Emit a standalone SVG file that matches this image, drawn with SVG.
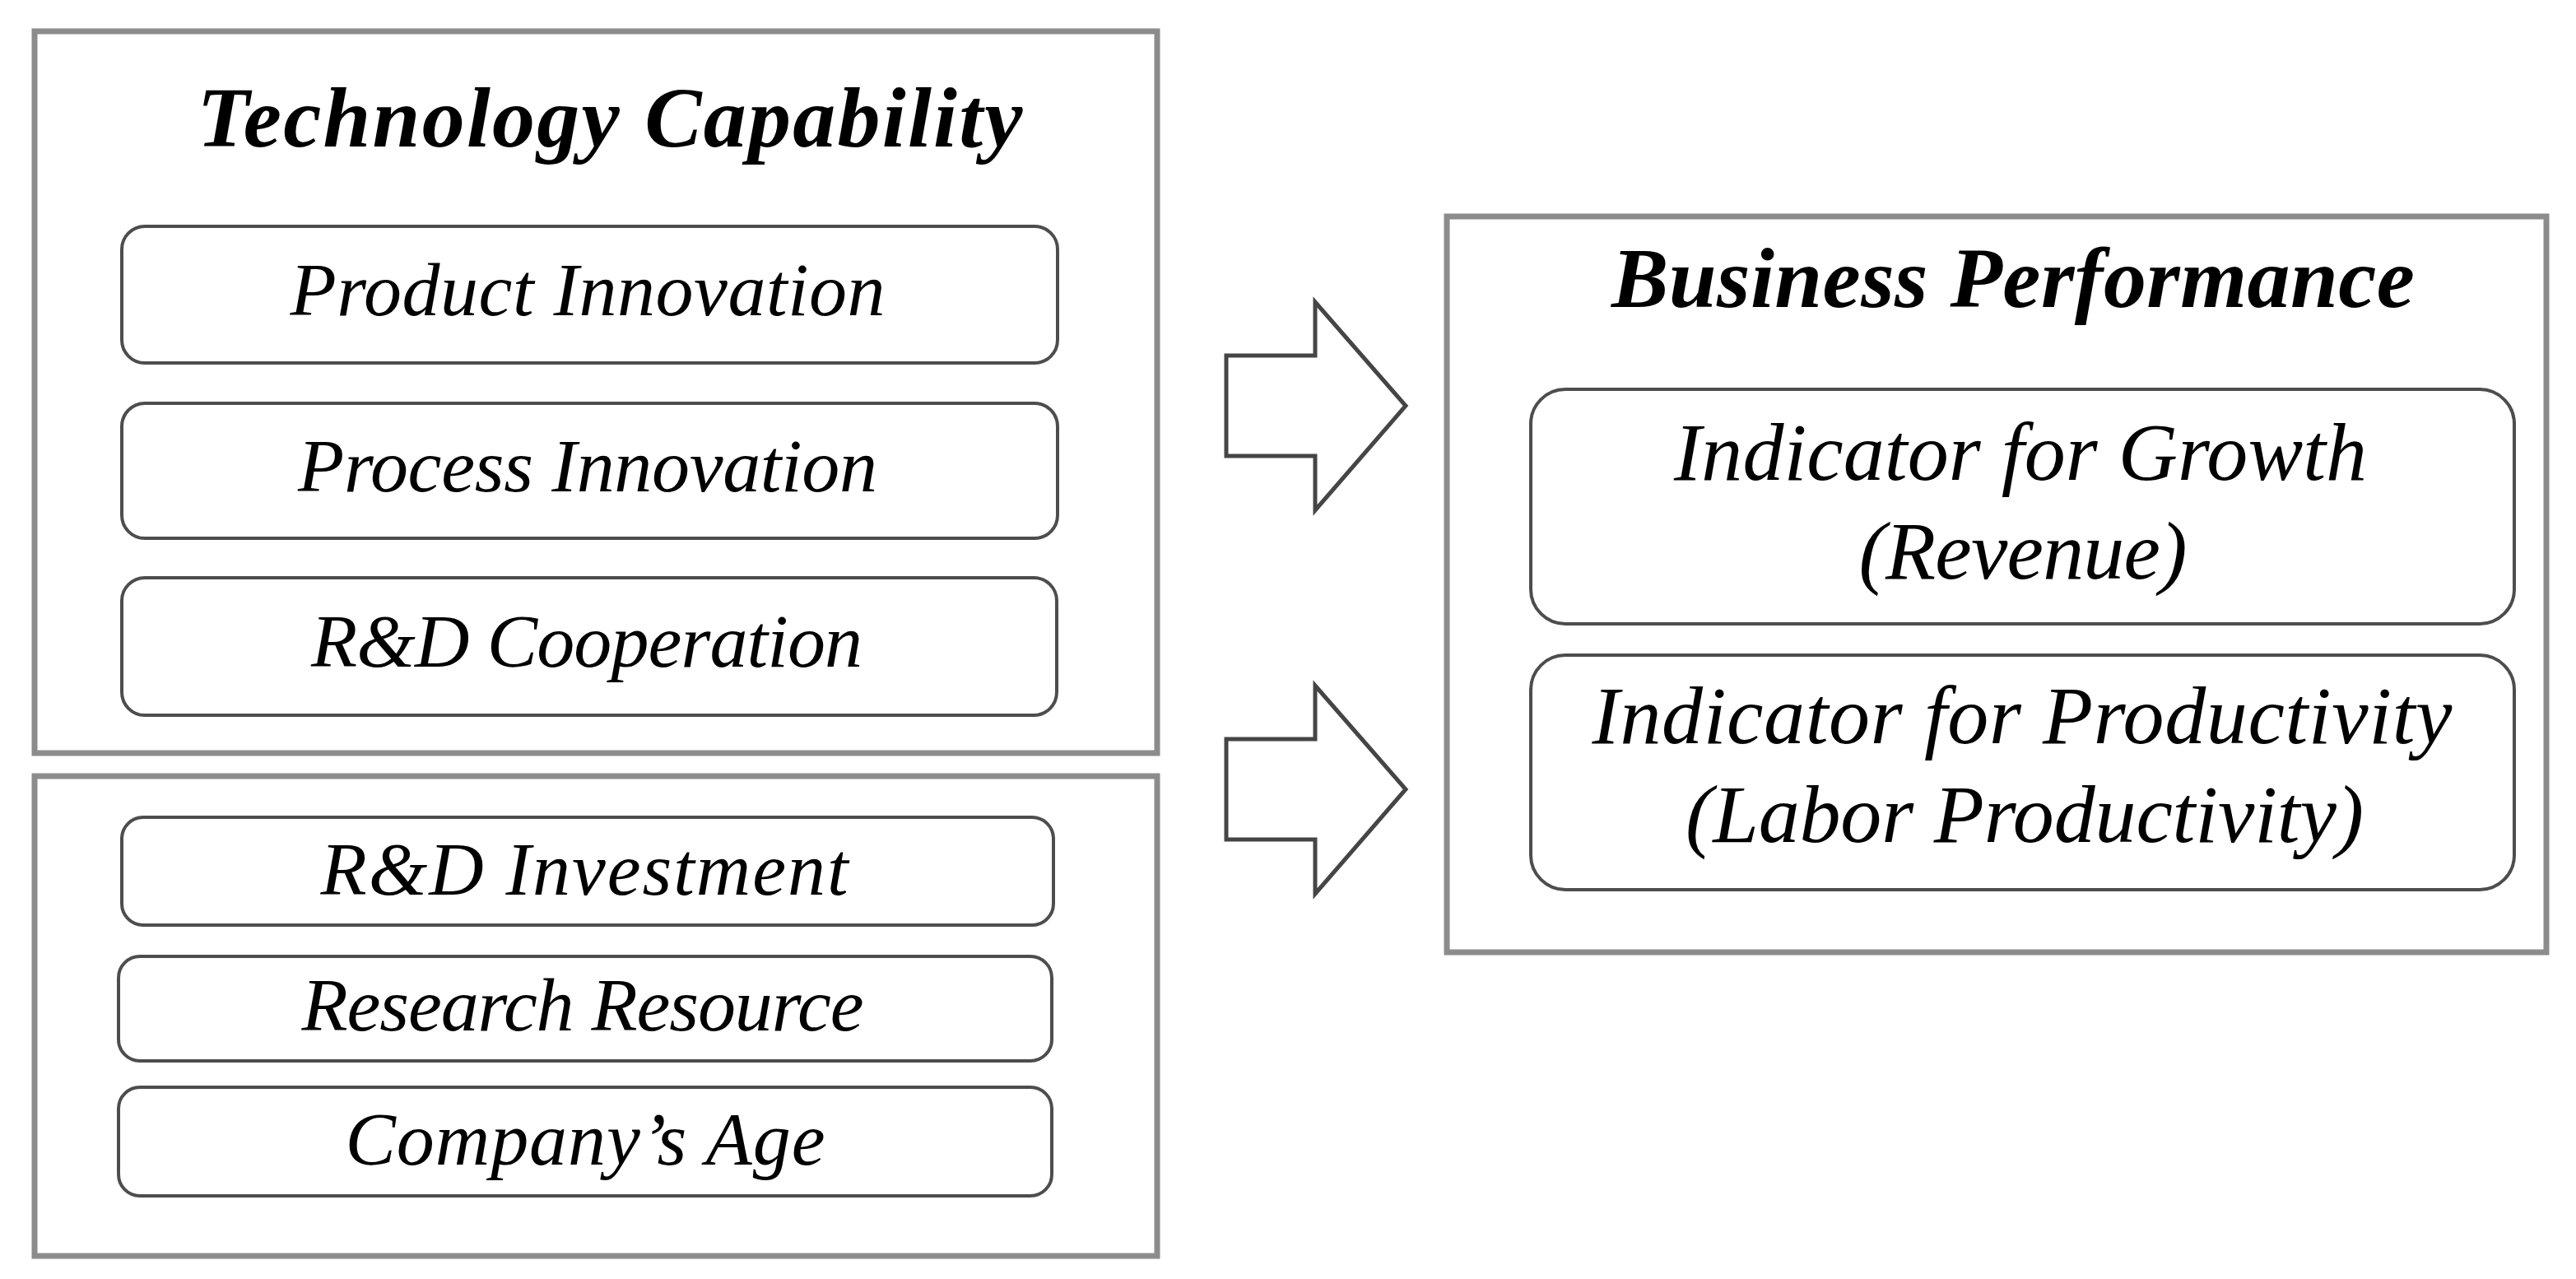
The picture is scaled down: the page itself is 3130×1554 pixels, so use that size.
<svg xmlns="http://www.w3.org/2000/svg" width="3130" height="1554" viewBox="0 0 3130 1554">
<style>
.outer{fill:#ffffff;stroke:#8c8c8c;stroke-width:7}
.item{fill:#ffffff;stroke:#4d4d4d;stroke-width:4}
.arrow{fill:#ffffff;stroke:#454545;stroke-width:5;stroke-linejoin:miter}
.t{font-family:"Liberation Serif","Times New Roman",serif;font-style:italic;fill:#000000;text-anchor:middle}
.l{font-size:92px}
.r{font-size:100px}
.h{font-size:104px;font-weight:bold}
</style>
<rect width="3130" height="1554" fill="#ffffff"/>
<g id="technology-capability">
<rect class="outer" x="42" y="38" width="1364" height="877"/>
<text class="t h" x="741" y="178" textLength="1003">Technology Capability</text>
</g>
<g id="product-innovation">
<rect class="item" x="148" y="275" width="1137" height="166" rx="28"/>
<text class="t l" x="714" y="383" textLength="723">Product Innovation</text>
</g>
<g id="process-innovation">
<rect class="item" x="148" y="490" width="1137" height="164" rx="28"/>
<text class="t l" x="714" y="597" textLength="704">Process Innovation</text>
</g>
<g id="rd-cooperation">
<rect class="item" x="148" y="702" width="1136" height="167" rx="28"/>
<text class="t l" x="713" y="810" textLength="670">R&amp;D Cooperation</text>
</g>
<g id="controls">
<rect class="outer" x="42" y="943" width="1364" height="583"/>
</g>
<g id="rd-investment">
<rect class="item" x="148" y="993" width="1132" height="131" rx="26"/>
<text class="t l" x="710" y="1087" textLength="641">R&amp;D Investment</text>
</g>
<g id="research-resource">
<rect class="item" x="144" y="1162" width="1134" height="127" rx="26"/>
<text class="t l" x="708" y="1252" textLength="683">Research Resource</text>
</g>
<g id="company-age">
<rect class="item" x="144" y="1321" width="1134" height="132" rx="26"/>
<text class="t l" x="711" y="1415" textLength="583">Company’s Age</text>
</g>
<g id="business-performance">
<rect class="outer" x="1758" y="263" width="1336" height="894"/>
<text class="t h" x="2446" y="373" textLength="976">Business Performance</text>
</g>
<g id="indicator-growth">
<rect class="item" x="1860" y="473" width="1195" height="285" rx="42"/>
<text class="t r" x="2455" y="583" textLength="842">Indicator for Growth</text>
<text class="t r" x="2458" y="703" textLength="399">(Revenue)</text>
</g>
<g id="indicator-productivity">
<rect class="item" x="1860" y="796" width="1195" height="285" rx="42"/>
<text class="t r" x="2457" y="903" textLength="1045">Indicator for Productivity</text>
<text class="t r" x="2460" y="1023" textLength="824">(Labor Productivity)</text>
</g>
<g id="connectors">
<polygon class="arrow" points="1490,432 1598,432 1598,367 1708,493 1598,620 1598,554 1490,554"/>
<polygon class="arrow" points="1490,898 1598,898 1598,833 1708,959 1598,1086 1598,1020 1490,1020"/>
</g>
</svg>
